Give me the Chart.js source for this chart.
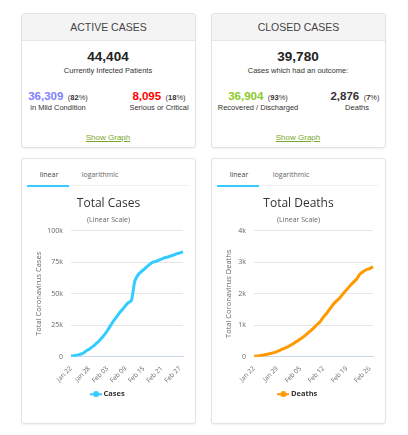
<!DOCTYPE html>
<html>
<head>
<meta charset="utf-8">
<script src="https://cdn.jsdelivr.net/npm/chart.js@4.4.1/dist/chart.umd.min.js"></script>
<style>
  body { margin: 0; background: #fff; font-family: "Liberation Sans", Arial, sans-serif; }
  #page { position: relative; width: 408px; height: 435px; overflow: hidden; }
  .panel { position: absolute; border: 1px solid #e3e3e3; border-radius: 3px; background: #fff;
           box-shadow: 0 1px 2px rgba(0,0,0,0.06); box-sizing: border-box; }
  .head { position: absolute; left: 0; right: 0; top: 0; height: 26px; background: #f4f4f4;
          border-bottom: 1px solid #e6e6e6; text-align: center; line-height: 26px; font-size: 10.5px; color: #444; }
  .abs { position: absolute; white-space: nowrap; transform: translateX(-50%); text-align: center; }
  .big { font-weight: bold; font-size: 13.5px; color: #222; }
  .small { font-size: 7.5px; color: #333; }
  .num { font-weight: bold; font-size: 11.5px; }
  .pct { font-size: 7.5px; color: #333; }
  .link { font-size: 8px; color: #7aa82e; text-decoration: underline; }
  .tab { position: absolute; font-family: "Open Sans", sans-serif; font-size: 7px; color: #666; transform: translateX(-50%); }
  .tab.on { color: #444; }
  .uline { position: absolute; height: 2px; background: #33ccff; }
  .sep { position: absolute; height: 1px; background: #f0f0f0; }
  canvas { position: absolute; }
</style>
</head>
<body>
<div id="page">
  <!-- tarjetas de arriba -->
  <div class="panel" style="left:21px; top:13px; width:175px; height:135px;">
    <div class="head">ACTIVE CASES</div>
  </div>
  <div class="abs big" style="left:108px; top:49px;">44,404</div>
  <div class="abs small" style="left:108px; top:66px;">Currently Infected Patients</div>
  <div class="abs" style="left:58px; top:86px;"><span class="num" style="color:#8080ff;">36,309</span> <span class="pct">(<b>82</b>%)</span></div>
  <div class="abs small" style="left:58px; top:103px;">in Mild Condition</div>
  <div class="abs" style="left:159px; top:86px;"><span class="num" style="color:#ff0000;">8,095</span> <span class="pct">(<b>18</b>%)</span></div>
  <div class="abs small" style="left:159px; top:103px;">Serious or Critical</div>
  <div class="abs link" style="left:108px; top:133px;">Show Graph</div>

  <div class="panel" style="left:211px; top:13px; width:175px; height:135px;">
    <div class="head">CLOSED CASES</div>
  </div>
  <div class="abs big" style="left:298px; top:49px;">39,780</div>
  <div class="abs small" style="left:298px; top:66px;">Cases which had an outcome:</div>
  <div class="abs" style="left:258px; top:86px;"><span class="num" style="color:#8aca2b;">36,904</span> <span class="pct">(<b>93</b>%)</span></div>
  <div class="abs small" style="left:258px; top:103px;">Recovered / Discharged</div>
  <div class="abs" style="left:355px; top:86px;"><span class="num" style="color:#333;">2,876</span> <span class="pct">(<b>7</b>%)</span></div>
  <div class="abs small" style="left:357px; top:103px;">Deaths</div>
  <div class="abs link" style="left:298px; top:133px;">Show Graph</div>

  <!-- paneles de graficos -->
  <div class="panel" style="left:21px; top:158px; width:175px; height:266px;"></div>
  <div class="tab on" style="left:49px; top:170px;">linear</div>
  <div class="tab" style="left:100px; top:170px;">logarithmic</div>
  <div class="sep" style="left:27px; top:185px; width:162px;"></div>
  <div class="uline" style="left:27px; top:185px; width:42px;"></div>
  <canvas id="casesChart" style="left:22px; top:190px; width:172px; height:218px;"></canvas>

  <div class="panel" style="left:211px; top:158px; width:175px; height:266px;"></div>
  <div class="tab on" style="left:239px; top:170px;">linear</div>
  <div class="tab" style="left:291px; top:170px;">logarithmic</div>
  <div class="sep" style="left:217px; top:185px; width:162px;"></div>
  <div class="uline" style="left:217px; top:185px; width:42px;"></div>
  <canvas id="deathsChart" style="left:212px; top:190px; width:172px; height:218px;"></canvas>
</div>

<script>
// fechas (categorias)
const caseDates = ['Jan 22','Jan 23','Jan 24','Jan 25','Jan 26','Jan 27','Jan 28','Jan 29','Jan 30','Jan 31',
  'Feb 01','Feb 02','Feb 03','Feb 04','Feb 05','Feb 06','Feb 07','Feb 08','Feb 09','Feb 10',
  'Feb 11','Feb 12','Feb 13','Feb 14','Feb 15','Feb 16','Feb 17','Feb 18','Feb 19','Feb 20',
  'Feb 21','Feb 22','Feb 23','Feb 24','Feb 25','Feb 26','Feb 27','Feb 28'];
const deathDates = ['Jan 22','Jan 23','Jan 24','Jan 25','Jan 26','Jan 27','Jan 28','Jan 29','Jan 30','Jan 31',
  'Feb 01','Feb 02','Feb 03','Feb 04','Feb 05','Feb 06','Feb 07','Feb 08','Feb 09','Feb 10',
  'Feb 11','Feb 12','Feb 13','Feb 14','Feb 15','Feb 16','Feb 17','Feb 18','Feb 19','Feb 20',
  'Feb 21','Feb 22','Feb 23','Feb 24','Feb 25','Feb 26','Feb 27'];

// valores
const totalCases = [580, 845, 1317, 2015, 2800, 4581, 6058, 7813, 9823, 11950,
  14553, 17391, 20630, 24545, 28266, 31439, 34876, 37552, 40553, 43099,
  45134, 59287, 64438, 67100, 69197, 71329, 73332, 75184, 75700, 76677,
  77673, 78651, 79205, 80087, 80828, 81820, 82500, 83400];
const totalDeaths = [17, 25, 41, 56, 80, 106, 132, 170, 213, 259,
  304, 362, 426, 492, 565, 638, 724, 813, 910, 1018,
  1115, 1261, 1383, 1526, 1669, 1775, 1873, 2009, 2126, 2247,
  2360, 2460, 2618, 2699, 2763, 2800, 2858];

// ticks del eje y
const caseTicks = ['0', '25k', '50k', '75k', '100k'];
const deathTicks = ['0', '1k', '2k', '3k', '4k'];

// simbolo de la leyenda: linea con circulo
function legendSymbol(color) {
  const c = document.createElement('canvas');
  c.width = 12; c.height = 6;
  const g = c.getContext('2d');
  g.strokeStyle = color; g.lineWidth = 2;
  g.beginPath(); g.moveTo(0, 3); g.lineTo(12, 3); g.stroke();
  g.fillStyle = color;
  g.beginPath(); g.arc(6, 3, 3, 0, Math.PI * 2); g.fill();
  return c;
}

function makeChart(id, labels, values, name, color, title, axisTitle, ticks, step, every, yWidth) {
  const ctx = document.getElementById(id).getContext('2d');
  return new Chart(ctx, {
    type: 'line',
    data: {
      labels: labels,
      datasets: [{
        label: name,
        data: values,
        borderColor: color,
        backgroundColor: color,
        borderWidth: 3,
        pointRadius: 0,
        cubicInterpolationMode: 'monotone',
        fill: false
      }]
    },
    options: {
      responsive: false,
      animation: false,
      layout: { padding: { left: 12, right: 11, top: 2, bottom: 0 } },
      plugins: {
        title: {
          display: true, text: title, color: '#333',
          font: { family: 'Open Sans', size: 12, weight: 'normal' },
          padding: { top: 4, bottom: 5 }
        },
        subtitle: {
          display: true, text: '(Linear Scale)', color: '#666',
          font: { family: 'Open Sans', size: 7 },
          padding: { bottom: 7 }
        },
        legend: {
          position: 'bottom',
          labels: {
            usePointStyle: true,
            pointStyle: legendSymbol(color),
            color: '#333',
            font: { family: 'Open Sans', size: 7.5, weight: 'bold' },
            padding: 6
          }
        },
        tooltip: { enabled: false }
      },
      scales: {
        x: {
          grid: { display: false },
          border: { color: '#ccd6eb' },
          ticks: {
            autoSkip: false, maxRotation: 45, minRotation: 45,
            padding: 0,
            color: '#666', font: { family: 'Open Sans', size: 6.5 },
            callback: function(v, i) { return i % every === 0 ? labels[i] : null; }
          }
        },
        y: {
          min: 0, max: step * 4,
          grid: { color: '#e6e6e6', drawTicks: false },
          border: { display: false },
          afterFit: function(scale) { scale.width = yWidth; },
          ticks: {
            stepSize: step, color: '#666', font: { family: 'Open Sans', size: 7 },
            padding: 8,
            callback: function(v) { return ticks[Math.round(v / step)]; }
          },
          title: {
            display: true, text: axisTitle, color: '#666',
            font: { family: 'Open Sans', size: 7.5 },
            padding: 0
          }
        }
      }
    }
  });
}

makeChart('casesChart', caseDates, totalCases, 'Cases', '#33ccff', 'Total Cases',
  'Total Coronavirus Cases', caseTicks, 25000, 6, 37);
makeChart('deathsChart', deathDates, totalDeaths, 'Deaths', '#ff9900', 'Total Deaths',
  'Total Coronavirus Deaths', deathTicks, 1000, 7, 30);
</script>
</body>
</html>
